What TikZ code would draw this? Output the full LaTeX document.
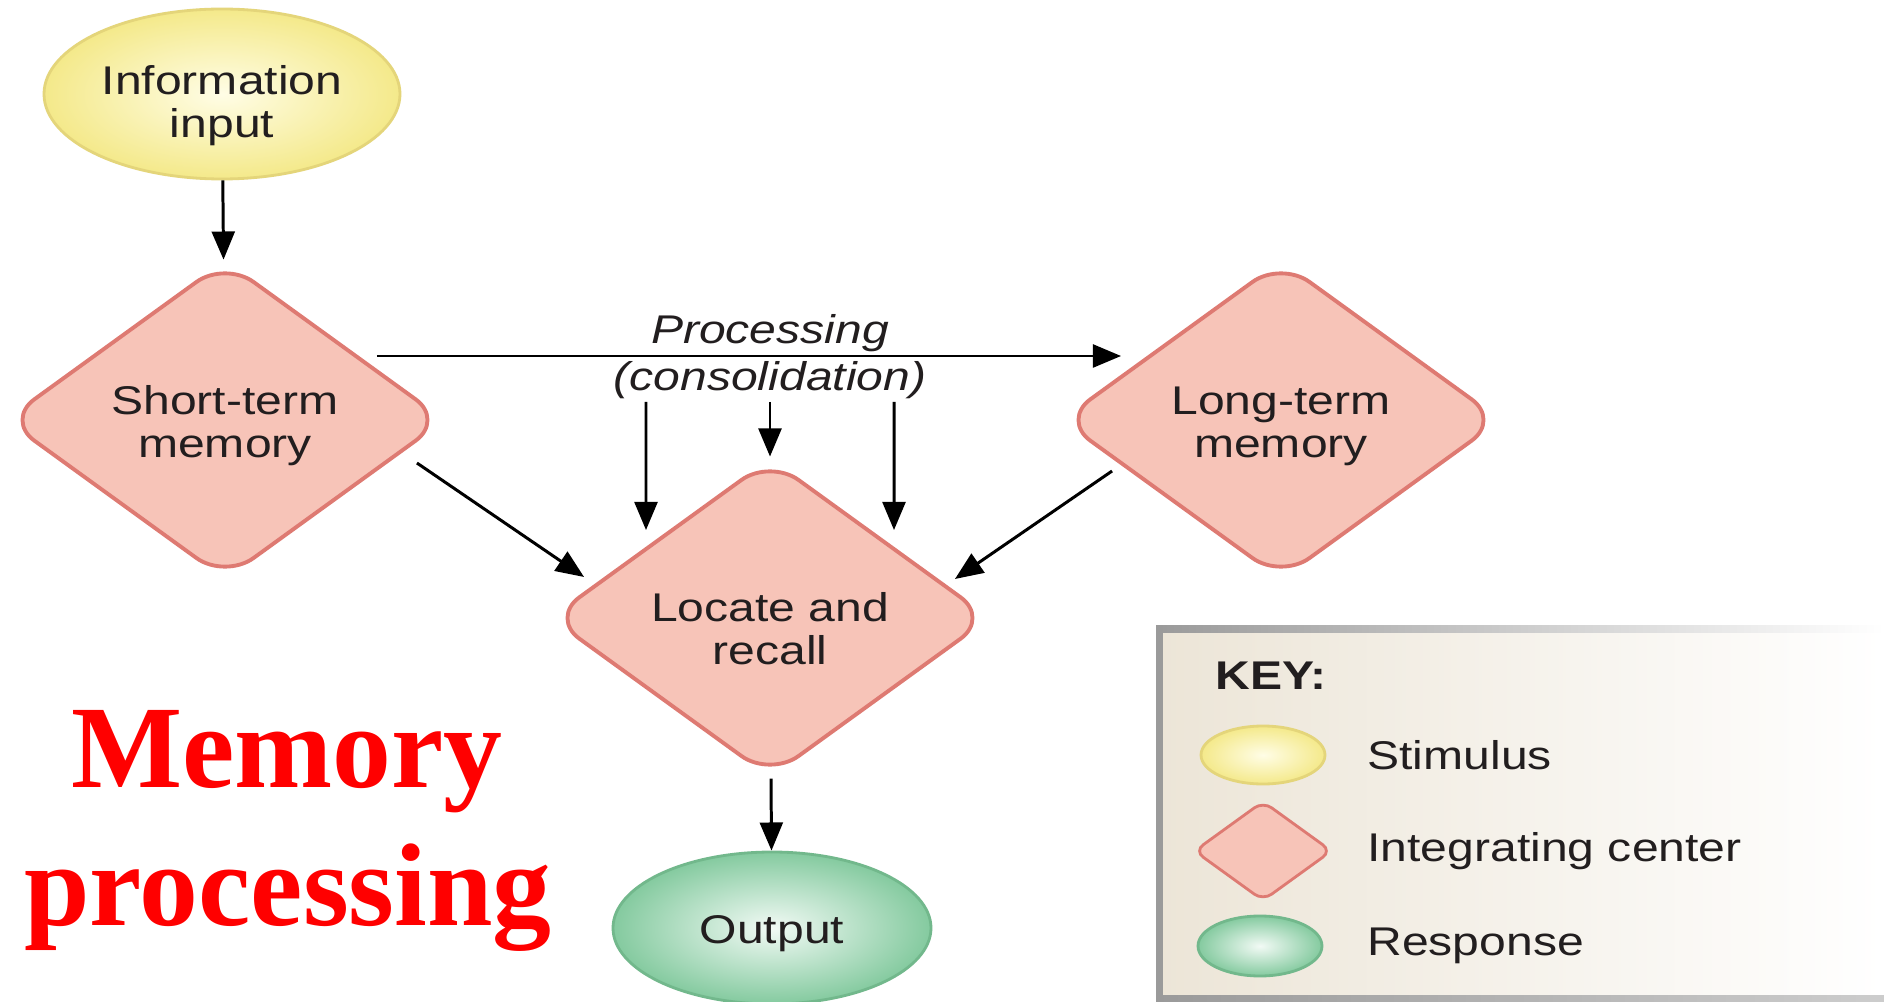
\documentclass[tikz,border=0pt]{standalone}
\usepackage{fontspec}
\setmainfont{Liberation Serif}
\newfontfamily\diagfont[FakeStretch=1.2]{Liberation Sans}
\usepackage{tikz}
\usetikzlibrary{shapes.geometric,arrows.meta,positioning}

\definecolor{stimin}{HTML}{FFFDE6}
\definecolor{stimout}{HTML}{F4E98A}
\definecolor{stimline}{HTML}{E4D57A}
\definecolor{diamfill}{HTML}{F7C4B8}
\definecolor{diamline}{HTML}{DE7A72}
\definecolor{respin}{HTML}{F2FAF5}
\definecolor{respout}{HTML}{84CA9F}
\definecolor{respline}{HTML}{72B88C}
\definecolor{keyfill}{HTML}{ECE5D7}
\definecolor{keyrule}{HTML}{9A9A9A}
\definecolor{txt}{HTML}{221E1F}

\begin{document}
\begin{tikzpicture}[->,>={Triangle[length=8pt,width=6.5pt]}, line width=0.85pt,
	every node/.style={font=\diagfont\fontsize{11.4}{12.2}\selectfont, text=txt, align=center},
	stimnode/.style={ellipse, draw=stimline, line width=0.8pt, inner color=stimin, outer color=stimout, inner sep=0pt},
	centernode/.style={diamond, draw=diamline, line width=1.1pt, fill=diamfill, inner sep=0pt, aspect=1.4, rounded corners=10pt},
	respnode/.style={ellipse, draw=respline, line width=0.8pt, inner color=respin, outer color=respout, inner sep=0pt},
	keytext/.style={anchor=west, inner sep=0pt},
	ttl/.style={font=\bfseries\fontsize{33.5}{39}\selectfont, text=red}]
		\useasboundingbox (0,0) rectangle (18.84,-10.02);
		\fill[white] (0,0) rectangle (18.84,-10.02);
		\clip (0,0) rectangle (18.84,-10.02);
		\node[stimnode, minimum width=3.56cm, minimum height=1.70cm] (inp) at (2.22,-0.94) {\rule{0pt}{0.53cm}Information\\input};
		\node[centernode, minimum width=4.40cm, minimum height=3.19cm] (stm) at (2.25,-4.20) {\rule{0pt}{0.41cm}Short-term\\memory};
		\node[centernode, minimum width=4.40cm, minimum height=3.19cm] (ltm) at (12.81,-4.20) {\rule{0pt}{0.41cm}Long-term\\memory};
		\node[centernode, minimum width=4.40cm, minimum height=3.19cm] (rec) at (7.70,-6.18) {\rule{0pt}{0.51cm}Locate and\\recall};
		\node[respnode, minimum width=3.18cm, minimum height=1.52cm] (out) at (7.72,-9.28) {\rule{0pt}{0.39cm}Output};
		\node[font=\diagfont\itshape\fontsize{11.4}{12.2}\selectfont] (proc) at (7.70,-3.33) {Processing};
		\node[font=\diagfont\itshape\fontsize{11.4}{12.2}\selectfont, inner sep=0.5pt] (cons) at (7.70,-3.80) {(consolidation)};
		\draw (inp) -- (stm);
		\draw ([shift={(-0.70,0.64)}]stm.east) -- ([shift={(0.62,0.64)}]ltm.west);
		\draw ([xshift=-1.24cm]cons.south) -- ([shift={(-1.24,-0.735)}]rec.north);
		\draw (cons.south) -- (rec.north);
		\draw ([xshift=1.24cm]cons.south) -- ([shift={(1.24,-0.735)}]rec.north);
		\draw ([shift={(-0.30,-0.43)}]stm.east) -- ([shift={(0.36,0.41)}]rec.west);
		\draw ([shift={(0.53,-0.51)}]ltm.west) -- ([shift={(-0.37,0.39)}]rec.east);
		\draw (rec) -- (out);

		% key box
		\shade[left color=keyfill, right color=white] (11.56,-6.25) rectangle (18.84,-10.02);
		\shade[left color=keyrule, right color=white] (11.56,-6.25) rectangle (18.84,-6.32);
		\shade[left color=keyrule, right color=keyrule!50] (11.56,-9.95) rectangle (18.84,-10.02);
		\fill[keyrule] (11.56,-6.25) rectangle (11.63,-10.02);
		\node[keytext, font=\diagfont\bfseries\fontsize{11.4}{12.2}\selectfont] (key) at (12.14,-6.76) {KEY:};
		\node[stimnode, minimum width=1.24cm, minimum height=0.58cm] (kstim) at (12.63,-7.55) {};
		\node[keytext] (tstim) at (13.66,-7.55) {Stimulus};
		\node[centernode, minimum width=1.38cm, minimum height=1.0cm, line width=0.8pt, rounded corners=3pt] (kcen) at (12.63,-8.51) {};
		\node[keytext] (tcen) at (13.66,-8.51) {Integrating center};
		\node[respnode, minimum width=1.24cm, minimum height=0.60cm] (kresp) at (12.60,-9.46) {};
		\node[keytext] (tresp) at (13.66,-9.46) {Response};

		% title
		\node[ttl, anchor=base] (ttl1) at (2.87,-7.87) {Memory};
		\node[ttl, anchor=base] (ttl2) at (2.88,-9.25) {processing};
	\end{tikzpicture}
\end{document}
